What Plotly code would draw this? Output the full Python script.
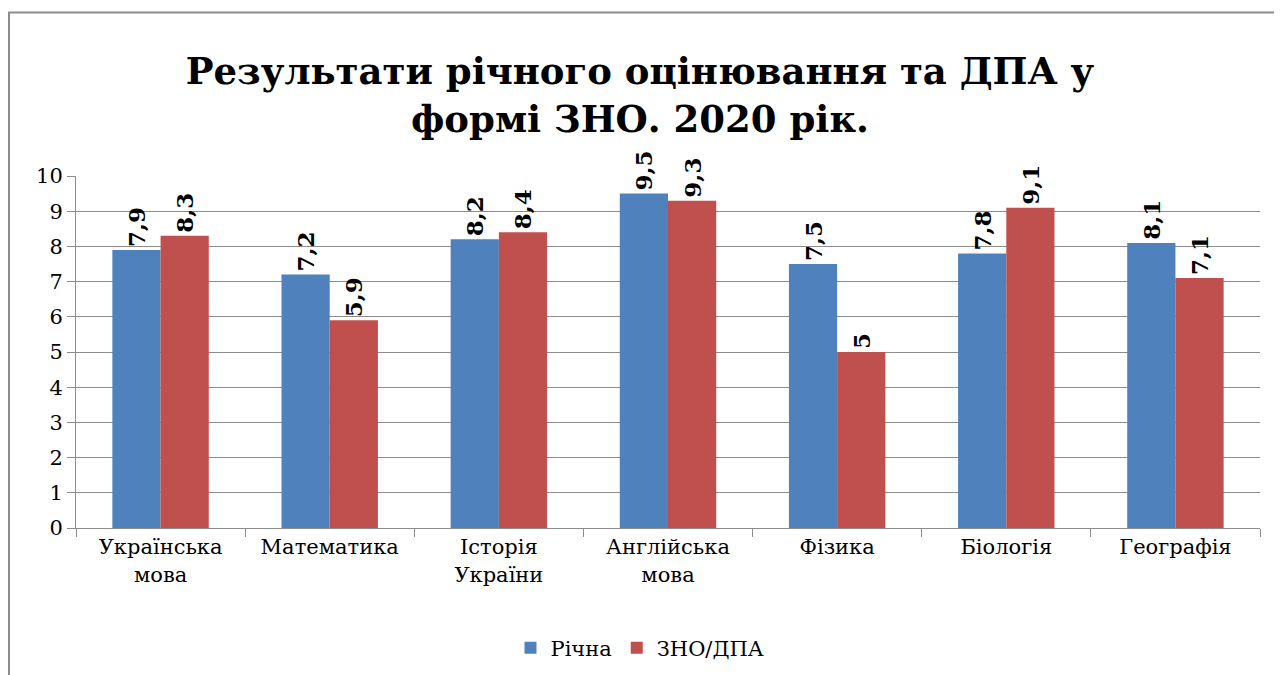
import plotly.graph_objects as go

categories = ["Українська<br>мова", "Математика", "Історія<br>України", "Англійська<br>мова", "Фізика", "Біологія", "Географія"]
richna = [7.9, 7.2, 8.2, 9.5, 7.5, 7.8, 8.1]
zno_dpa = [8.3, 5.9, 8.4, 9.3, 5.0, 9.1, 7.1]
series_names = ["Річна", "ЗНО/ДПА"]
colors = ["#4F81BD", "#C0504D"]
y_ticks = list(range(0, 11))

def fmt(v):
    return ("%g" % v).replace(".", ",")

serif = "DejaVu Serif"

fig = go.Figure()
for name, vals, col in zip(series_names, [richna, zno_dpa], colors):
    fig.add_trace(go.Bar(
        x=categories, y=vals, name=name,
        marker=dict(color=col, line=dict(width=0)),
        text=[fmt(v) for v in vals],
        textposition="outside", textangle=-90,
        textfont=dict(family=serif, size=23, color="black", weight="bold"),
        cliponaxis=False,
    ))

OX, OY = 8, 8
L, R, T, B = 76 - OX, 1260 - OX, 176 - OY, 528 - OY
W, H = 1282, 675
fig.update_layout(
    width=W, height=H,
    margin=dict(l=L, r=W - R, t=T, b=H - B, autoexpand=False),
    paper_bgcolor="white", plot_bgcolor="white",
    barmode="group", bargap=0.43, bargroupgap=0,
    title=dict(
        text="<b>Результати річного оцінювання та ДПА у<br>формі ЗНО. 2020 рік.</b>",
        font=dict(family=serif, size=37, color="black"),
        x=(640 - OX) / W, xanchor="center", xref="container",
        y=1 - (84 - OY) / H, yanchor="top", yref="container",
    ),
    legend=dict(
        orientation="h", x=(640 - OX - L) / (R - L), xanchor="center",
        y=-(648 - OY - B) / (B - T), yanchor="middle",
        font=dict(family=serif, size=21, color="black"),
        itemwidth=30, traceorder="normal",
    ),
    font=dict(family=serif, color="black"),
    showlegend=True,
)
fig.update_yaxes(
    range=[0, 10], tickvals=y_ticks, ticktext=[str(t) for t in y_ticks],
    showgrid=True, gridcolor="#8C8C8C", gridwidth=1,
    showline=True, linecolor="#8C8C8C", linewidth=1,
    ticks="outside", ticklen=8, tickcolor="#8C8C8C",
    tickfont=dict(family=serif, size=21, color="black"),
    zeroline=False, automargin=False,
)
fig.update_xaxes(
    showline=True, linecolor="#8C8C8C", linewidth=1,
    ticks="outside", ticklen=8, tickcolor="#8C8C8C", tickson="boundaries",
    tickfont=dict(family=serif, size=21, color="black"),
    showgrid=False, automargin=False,
)
fx0 = (8 - OX - L) / (R - L)
fy0 = (B - (12.5 - OY)) / (B - T)
fig.add_shape(type="line", xref="paper", yref="paper",
              x0=fx0, x1=(W + 5 - L) / (R - L), y0=fy0, y1=fy0,
              line=dict(color="#8C8C8C", width=2))
fig.add_shape(type="line", xref="paper", yref="paper",
              x0=fx0 + 1 / (R - L), x1=fx0 + 1 / (R - L),
              y0=fy0, y1=(B - H - 5) / (B - T),
              line=dict(color="#8C8C8C", width=2))

fig.write_html("out.html")
